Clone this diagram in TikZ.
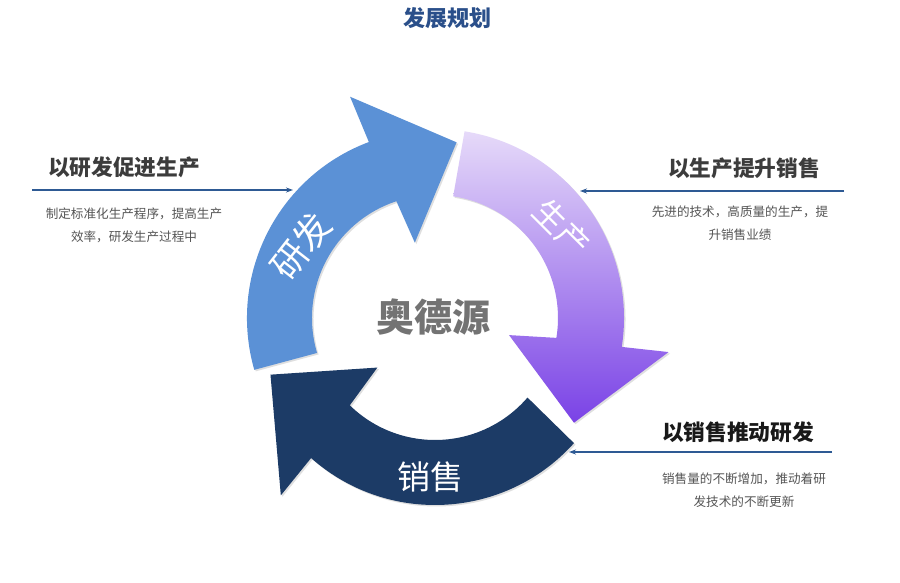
\documentclass[tikz,border=0pt]{standalone}
\usepackage{fontspec}
\setmainfont{Noto Sans CJK SC}
\usetikzlibrary{arrows.meta,shadows}
\definecolor{ttl}{HTML}{2A4F8A}
\definecolor{blueA}{HTML}{5B91D6}
\definecolor{navyA}{HTML}{1C3B66}
\definecolor{purT}{HTML}{E6DAF9}
\definecolor{purB}{HTML}{7A42E6}
\definecolor{linec}{HTML}{2E5A94}
\definecolor{headc}{HTML}{3C3C3C}
\definecolor{descc}{HTML}{555555}
\begin{document}
\begin{tikzpicture}[x=1pt,y=1pt,
  arrowshape/.style={drop shadow={opacity=0.25,shadow xshift=1.5pt,shadow yshift=-1.5pt}},
  heading/.style={font=\fontsize{21.7}{24}\selectfont\bfseries,text=headc,inner sep=0pt},
  desc/.style={font=\fontsize{12.6}{23}\selectfont,text=descc,align=center,inner sep=0pt},
  pointer/.style={draw=linec,line width=1.2pt,-{Stealth[length=7pt,width=5pt]}},
  ringlabel/.style={text=white,inner sep=0pt}]
\useasboundingbox (0,0) rectangle (900,-582);
\fill[white] (0,0) rectangle (900,-582);
% title
\node[font=\fontsize{22}{24}\selectfont\bfseries,text=ttl,inner sep=0pt] (title) at (447,-18) {发展规划};
% ring
\begin{scope}[shift={(435,-318)}]
\path[arrowshape,fill=blueA] (196:188pt) arc[start angle=196,end angle=110.6,radius=188pt]
  -- (111:237pt) -- (83:177pt) -- (105:78pt) -- (108.3:123pt)
  arc[start angle=108.3,end angle=196.5,radius=123pt] -- cycle;
\path[arrowshape,top color=purT,bottom color=purB] (81:189pt) arc[start angle=81,end angle=-8.8,radius=189pt]
  -- (-8.3:236pt) -- (-37:174pt) -- (-13:76pt) -- (-9.3:123pt)
  arc[start angle=-9.3,end angle=81.5,radius=123pt] -- cycle;
\path[arrowshape,fill=navyA] (-42:187pt) arc[start angle=-42,end angle=-131.5,radius=187pt]
  -- (-131:235pt) -- (-161:174pt) -- (-139.3:76pt) -- (-134.3:122pt)
  arc[start angle=-134.3,end angle=-40.7,radius=122pt] -- cycle;
\end{scope}
\node[ringlabel,font=\fontsize{36}{40}\selectfont,rotate=52] (rd) at (301,-246) {研发};
\node[ringlabel,font=\fontsize{32}{36}\selectfont,rotate=-45] (sc) at (562,-228) {生产};
\node[ringlabel,font=\fontsize{33}{36}\selectfont] (xs) at (430,-477) {销售};
\node[font=\fontsize{38}{42}\selectfont\bfseries,text=black!55,inner sep=0pt] (center) at (433,-317) {奥德源};
% left block
\node[heading] (h1) at (124,-167) {以研发促进生产};
\coordinate (l1s) at (32,-190);
\coordinate (l1e) at (293,-190);
\draw[pointer] (l1s) -- (l1e);
\node[desc] (d1) at (134,-225) {制定标准化生产程序，提高生产\\效率，研发生产过程中};
% right top block
\node[heading] (h2) at (744,-168) {以生产提升销售};
\coordinate (l2s) at (844,-191);
\coordinate (l2e) at (580,-191);
\draw[pointer] (l2s) -- (l2e);
\node[desc] (d2) at (740,-223) {先进的技术，高质量的生产，提\\升销售业绩};
% right bottom block
\node[heading,text=black!90] (h3) at (738,-432) {以销售推动研发};
\coordinate (l3s) at (832,-452);
\coordinate (l3e) at (569,-452);
\draw[pointer] (l3s) -- (l3e);
\node[desc] (d3) at (744,-490) {销售量的不断增加，推动着研\\发技术的不断更新};
\end{tikzpicture}
\end{document}
